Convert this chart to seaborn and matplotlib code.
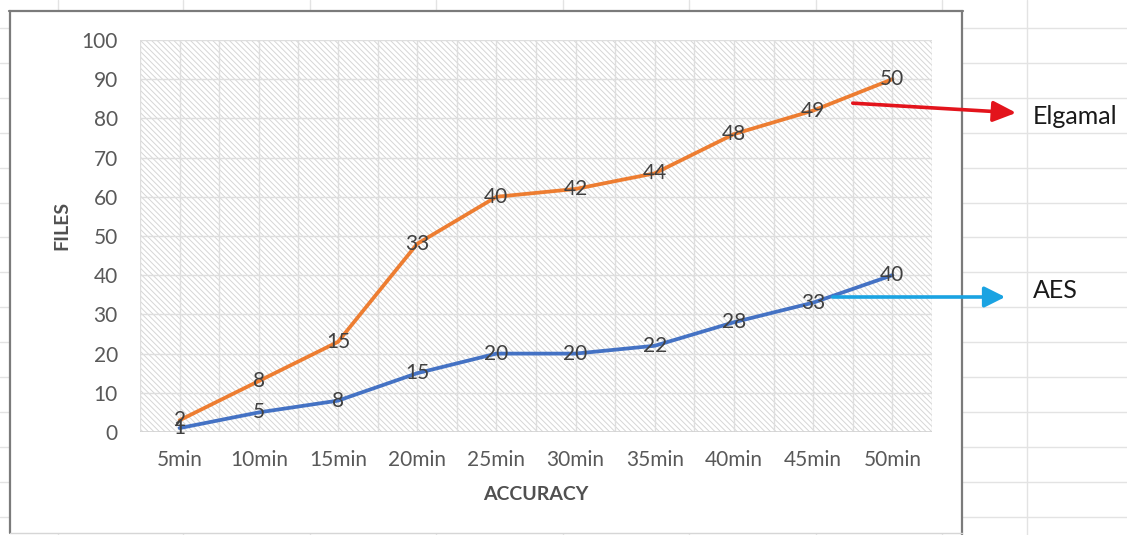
import matplotlib
matplotlib.use("Agg")
import matplotlib.pyplot as plt
import seaborn as sns
import pandas as pd
import numpy as np
from matplotlib.patches import Rectangle, FancyArrowPatch

# ---- data -------------------------------------------------------------
categories = ["5min", "10min", "15min", "20min", "25min",
              "30min", "35min", "40min", "45min", "50min"]
aes_files = [1, 5, 8, 15, 20, 20, 22, 28, 33, 40]
elgamal_files = [2, 8, 15, 33, 40, 42, 44, 48, 49, 50]
y_ticks = [0, 10, 20, 30, 40, 50, 60, 70, 80, 90, 100]
series_names = ["AES", "Elgamal"]

W, H = 1127, 535

sns.set_theme(style="white")
plt.rcParams["font.family"] = ["Lato", "DejaVu Sans"]
plt.rcParams["hatch.linewidth"] = 0.7

fig = plt.figure(figsize=(W / 100, H / 100), dpi=100)

# ---- worksheet backdrop (pixel coordinates) ---------------------------
bg = fig.add_axes([0, 0, 1, 1])
bg.set_xlim(0, W)
bg.set_ylim(H, 0)
bg.axis("off")
bg.set_zorder(0)
cell_c = "#e3e3e3"
for y in np.arange(28, H, 34.9):
    bg.plot([0, W], [y, y], color=cell_c, lw=1, zorder=0.5)
for x in [57.5, 183, 310, 436, 563, 689, 816, 942, 1027]:
    bg.plot([x, x], [0, H], color=cell_c, lw=1, zorder=0.5)

# chart area
bg.add_patch(Rectangle((9, 11), 953, 522, facecolor="white",
                       edgecolor="none", zorder=1))
frame_c = "#7b7b7b"
bg.plot([9.5, 9.5], [11, 533], color=frame_c, lw=1.6, zorder=3)
bg.plot([9, 962.5], [11, 11], color=frame_c, lw=1.6, zorder=3)
bg.plot([962, 962], [11, H], color=frame_c, lw=1.6, zorder=3)
bg.plot([10, 962], [532.5, 532.5], color="#d6d6d6", lw=1, zorder=3)

# axis titles
bg.text(62, 225, "FILES", rotation=90, ha="center", va="center",
        fontsize=14, fontweight="bold", color="#505050", zorder=4)
bg.text(536, 494, "ACCURACY", ha="center", va="center",
        fontsize=14, fontweight="bold", color="#505050", zorder=4)

# ---- plot area --------------------------------------------------------
ax = fig.add_axes([140 / W, 1 - 432 / H, 792 / W, 392 / H])
ax.set_zorder(1)
ax.set_xlim(-0.5, len(categories) - 0.5)
ax.set_ylim(0, 100)
ax.patch.set_alpha(0)
ax.add_patch(Rectangle((0, 0), 1, 1, transform=ax.transAxes,
                       facecolor="white", edgecolor="#d6d6d6",
                       hatch="\\\\\\\\\\\\", lw=0, zorder=0))
grid_c = "#dedede"
for yv in y_ticks[1:]:
    ax.axhline(yv, color=grid_c, lw=1, zorder=0.5)
for xv in np.arange(-0.5, len(categories), 0.5):
    ax.axvline(xv, color=grid_c, lw=1, zorder=0.5)
ax.axhline(0, color="#d2d2d2", lw=1.2, zorder=0.6)

pos = np.arange(len(categories))
aes_arr = np.array(aes_files)
elg_arr = np.array(elgamal_files)
stacked = aes_arr + elg_arr  # stacked line: Elgamal sits on top of AES
df = pd.DataFrame({"pos": pos, "AES": aes_arr, "Elgamal": stacked})

sns.lineplot(data=df, x="pos", y="AES", color="#4472C4", lw=2.7,
             ax=ax, zorder=3, solid_joinstyle="round", solid_capstyle="round")
sns.lineplot(data=df, x="pos", y="Elgamal", color="#ED7D31", lw=2.7,
             ax=ax, zorder=3, solid_joinstyle="round", solid_capstyle="round")

lab_c = "#404040"
for i in range(len(categories)):
    ax.text(pos[i], aes_arr[i], str(aes_files[i]), ha="center", va="center",
            fontsize=15, color=lab_c, zorder=5)
    ax.text(pos[i], stacked[i], str(elgamal_files[i]), ha="center",
            va="center", fontsize=15, color=lab_c, zorder=5)

ax.set_xticks(pos, categories)
ax.set_yticks(y_ticks)
ax.tick_params(axis="both", length=0, labelsize=15, colors="#595959")
ax.tick_params(axis="y", pad=16)
ax.tick_params(axis="x", pad=13)
ax.set_xlabel("")
ax.set_ylabel("")
for sp in ax.spines.values():
    sp.set_visible(False)

# series callouts
fig.add_artist(FancyArrowPatch((850 / W, 1 - 103 / H), (1019 / W, 1 - 113 / H),
                               transform=fig.transFigure,
                               arrowstyle="-|>,head_length=1.0,head_width=0.45",
                               mutation_scale=14, color="#e3141c", lw=2.6,
                               zorder=10))
fig.add_artist(FancyArrowPatch((830 / W, 1 - 297 / H), (1008 / W, 1 - 297 / H),
                               transform=fig.transFigure,
                               arrowstyle="-|>,head_length=0.9,head_width=0.45",
                               mutation_scale=14, color="#1aa3e2", lw=2.6,
                               zorder=10))
fig.text(1033 / W, 1 - 117 / H, series_names[1], ha="left", va="center",
         fontsize=18, color="#1a1a1a", zorder=10)
fig.text(1033 / W, 1 - 291 / H, series_names[0], ha="left", va="center",
         fontsize=18, color="#1a1a1a", zorder=10)

fig.savefig("out.png", dpi=100)
